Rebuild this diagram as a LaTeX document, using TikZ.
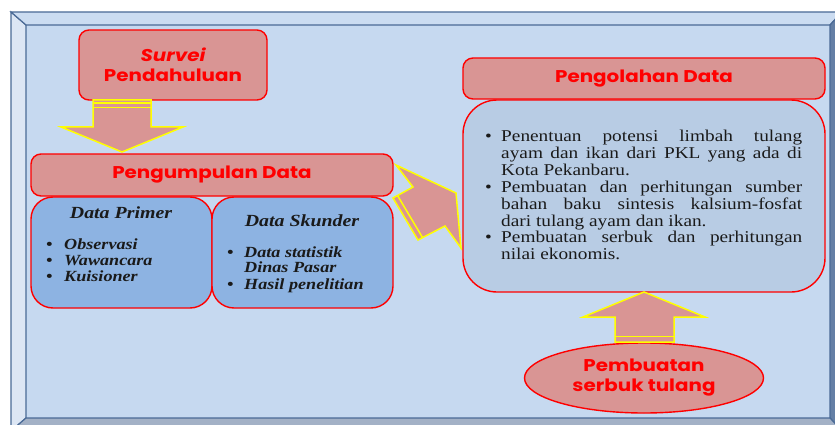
\documentclass[tikz,border=0pt]{standalone}
\usepackage{fontspec}
\setmainfont{Liberation Serif}[FakeStretch=1.17]
\newfontfamily\gothic{Poppins}[FakeStretch=1.17]
\usetikzlibrary{shapes.geometric,calc}
\definecolor{rose}{HTML}{D99594}
\definecolor{panel}{HTML}{C6D9F0}
\definecolor{edge}{HTML}{4A6A96}
\definecolor{leftbevel}{HTML}{DCE6F4}
\definecolor{topbevel}{HTML}{CBDCF1}
\definecolor{rightbevel}{HTML}{647FA5}
\definecolor{botbevel}{HTML}{A3B1C6}
\definecolor{boxblue}{HTML}{8DB3E2}
\definecolor{bodyblue}{HTML}{B8CCE4}
\definecolor{ink}{HTML}{1A1A1A}
\definecolor{arrowyellow}{HTML}{FFFF00}
\tikzset{
  bevel/.style={draw=edge, line width=1.2pt, line join=miter},
  rosebox/.style={draw=red, line width=1.4pt, fill=rose, rounded corners=10pt,
    font=\gothic\bfseries\fontsize{17}{20}\selectfont, text=red, align=center, inner sep=0pt},
  bluebox/.style={draw=red, line width=1.4pt, fill=boxblue, rounded corners=22pt, inner sep=0pt},
  bodybox/.style={draw=red, line width=1.4pt, fill=bodyblue, rounded corners=34pt, inner sep=0pt},
  blockarrow/.style={draw=arrowyellow, line width=1.5pt, fill=rose, line join=miter},
  ttl/.style={font=\bfseries\itshape\fontsize{17}{20}\selectfont, text=ink, inner sep=0pt, anchor=base},
  btxt/.style={font=\bfseries\itshape\fontsize{15.5}{16}\selectfont, text=ink, inner sep=0pt, anchor=base west},
  ptxt/.style={font=\fontsize{16.5}{17}\selectfont, text=ink, inner sep=0pt, anchor=base west},
}
\begin{document}
\begin{tikzpicture}[x=1pt,y=-1pt]
\useasboundingbox (0,0) rectangle (835,425);
\fill[white] (0,0) rectangle (835,425);
% frame
\fill[panel] (26,25) rectangle (830,418);
\filldraw[bevel, fill=leftbevel] (11,12) -- (26,25) -- (26,418) -- (11,431) -- cycle;
\filldraw[bevel, fill=topbevel] (11,12) -- (842,12) -- (830,25) -- (26,25) -- cycle;
\filldraw[bevel, fill=rightbevel] (842,12) -- (830,25) -- (830,418) -- (842,431) -- cycle;
\filldraw[bevel, fill=botbevel] (11,431) -- (26,418) -- (830,418) -- (842,431) -- cycle;

% boxes
\node[rosebox, minimum width=188pt, minimum height=70pt] (survei) at (173,65)
  {\itshape Survei\\Pendahuluan};
\node[rosebox, minimum width=362pt, minimum height=42pt] (kumpul) at (212,175)
  {Pengumpulan Data};
\node[bluebox, minimum width=181pt, minimum height=111pt] (primer) at (121.5,252.5) {};
\node[bluebox, minimum width=181pt, minimum height=111pt] (skunder) at (302.5,252.5) {};
\node[rosebox, minimum width=362pt, minimum height=41pt] (olah) at (644,78.5)
  {Pengolahan Data};
\node[bodybox, minimum width=362pt, minimum height=192pt] (body) at (644,196) {};
\node[rosebox, ellipse, minimum width=239pt, minimum height=70pt] (serbuk) at (644,378)
  {Pembuatan\\serbuk tulang};

% block arrows
\filldraw[blockarrow] (93,100) -- (151,100) -- (151,127) -- (183,127) -- (122,152)
  -- (61,127) -- (93,127) -- cycle;
\draw[arrowyellow, line width=1.5pt] (93,103) -- (151,103);
\draw[arrowyellow, line width=1.5pt] (93,107.5) -- (151,107.5);
\filldraw[blockarrow] (615,342) -- (674,342) -- (674,317) -- (705,317) -- (644,292)
  -- (583,317) -- (615,317) -- cycle;
\draw[arrowyellow, line width=1.5pt] (615,336.5) -- (674,336.5);
\filldraw[blockarrow] (393,198) -- (413,187) -- (396,165) -- (456,193) -- (461,248)
  -- (445,226) -- (418,240) -- cycle;
\draw[arrowyellow, line width=1.5pt] (397.5,195.5) -- (422.5,237.5);

% Data Primer
\node[ttl] (tp) at (121,218.3) {Data Primer};
\node[btxt] (p1b) at (46,249.3) {\textbullet};
\node[btxt] (p1) at (64,249.3) {Observasi};
\node[btxt] (p2b) at (46,265.3) {\textbullet};
\node[btxt] (p2) at (64,265.3) {Wawancara};
\node[btxt] (p3b) at (46,281.3) {\textbullet};
\node[btxt] (p3) at (64,281.3) {Kuisioner};
% Data Skunder
\node[ttl] (ts) at (302,226) {Data Skunder};
\node[btxt] (s1b) at (227,257.3) {\textbullet};
\node[btxt] (s1) at (244,257.3) {Data statistik};
\node[btxt] (s2) at (244,272.8) {Dinas Pasar};
\node[btxt] (s3b) at (227,289.3) {\textbullet};
\node[btxt] (s3) at (244,289.3) {Hasil penelitian};

% Pengolahan body text
\node[ptxt] (b1b) at (485,141.5) {\textbullet};
\node[ptxt] (b1) at (501,141.5) {\makebox[301pt][s]{Penentuan potensi limbah tulang}};
\node[ptxt] (b2) at (501,158.4) {\makebox[301pt][s]{ayam dan ikan dari PKL yang ada di}};
\node[ptxt] (b3) at (501,175.3) {Kota Pekanbaru.};
\node[ptxt] (b4b) at (485,192.2) {\textbullet};
\node[ptxt] (b4) at (501,192.2) {\makebox[301pt][s]{Pembuatan dan perhitungan sumber}};
\node[ptxt] (b5) at (501,209.1) {\makebox[301pt][s]{bahan baku sintesis kalsium-fosfat}};
\node[ptxt] (b6) at (501,226.0) {dari tulang ayam dan ikan.};
\node[ptxt] (b7b) at (485,242.9) {\textbullet};
\node[ptxt] (b7) at (501,242.9) {\makebox[301pt][s]{Pembuatan serbuk dan perhitungan}};
\node[ptxt] (b8) at (501,259.8) {nilai ekonomis.};
\end{tikzpicture}
\end{document}
